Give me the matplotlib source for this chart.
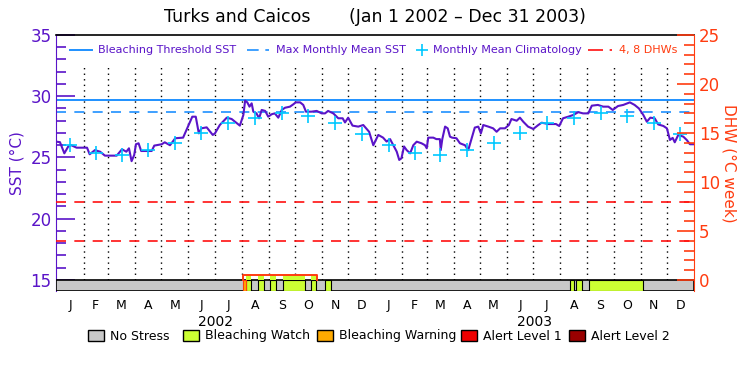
import numpy as np
import pandas as pd
import matplotlib
matplotlib.use("Agg")
import matplotlib.pyplot as plt
from matplotlib.patches import Rectangle

# days since 2002-01-01 and SST (degC)
sst_day = [0, 4, 9, 13.5, 17, 23, 35, 38, 44, 50, 55.5, 69, 75, 80, 83, 86, 89, 91, 94, 97,
           109, 112, 120.5, 124, 130, 136, 145, 148, 153, 155.5, 159.5, 163, 166, 172, 176,
           179, 181.5, 187, 195, 200.6, 210, 214, 216, 218.5, 221, 223.5, 225.4, 229, 232,
           235, 239, 242.5, 246.4, 250, 254, 258, 261.7, 267.4, 271, 274, 279, 282.6, 285.7,
           292, 298, 303.7, 307.5, 311, 317, 322.7, 327.7, 330.4, 334, 339, 345.6, 351.3,
           354.4, 358, 362.8, 368.5, 374, 378, 382, 385.7, 389.6, 392.5, 395, 398, 401, 405,
           408.6, 412.5, 418, 422, 424, 425.7, 431.5, 435, 439, 440, 441.8, 445, 448, 450.6,
           453, 458, 462, 467.8, 471.5, 474.6, 479, 483, 486, 488.7, 494.5, 500, 504, 508,
           513.6, 518, 521, 527, 530.7, 534.5, 540, 546, 551.7, 555.6, 563, 572, 575.7, 580,
           586, 591.8, 597.5, 603, 609, 613, 620, 626, 632, 637, 643, 649, 656.6, 662, 667,
           672, 676, 680, 685, 689, 695, 699, 702.5, 705.6, 708, 712, 717.8, 721.7, 725.4, 729]
sst_val = [26.29, 26.25, 25.34, 25.9, 26.0, 25.8, 25.8, 25.26, 25.6, 25.47, 25.15, 25.15,
           25.67, 25.47, 25.75, 24.7, 25.2, 26.08, 26.16, 25.53, 25.53, 25.97, 26.08, 26.24,
           26.0, 26.57, 26.62, 27.1, 27.92, 28.33, 28.33, 26.97, 27.38, 27.46, 27.1, 26.84,
           26.97, 27.65, 28.25, 28.14, 27.6, 28.47, 29.64, 29.5, 29.15, 29.42, 28.74, 28.6,
           28.2, 28.88, 28.8, 28.33, 28.53, 28.6, 28.25, 28.88, 29.06, 29.15, 29.33, 29.5,
           29.5, 29.29, 28.74, 28.74, 28.8, 28.6, 28.6, 28.8, 28.6, 28.2, 28.2, 27.86, 28.25,
           27.6, 27.52, 27.65, 27.4, 27.1, 26.0, 26.84, 26.62, 26.3, 26.5, 26.0, 25.48, 24.8,
           24.93, 25.9, 25.6, 25.34, 26.0, 26.29, 26.16, 26.0, 25.75, 26.62, 26.62, 26.5,
           26.5, 25.6, 26.5, 27.52, 27.38, 26.7, 26.62, 26.57, 26.16, 26.0, 25.6, 26.35,
           27.44, 27.52, 26.97, 27.65, 27.52, 27.38, 27.1, 27.38, 27.38, 27.65, 28.14, 28.0,
           28.25, 27.92, 27.52, 27.33, 27.65, 27.84, 27.73, 27.73, 27.57, 28.2, 28.33, 28.47,
           28.7, 28.6, 28.6, 29.23, 29.29, 29.15, 29.15, 28.88, 29.2, 29.29, 29.5, 29.29,
           29.0, 28.47, 27.92, 28.25, 28.2, 27.7, 27.57, 27.38, 26.43, 26.6, 26.24, 26.84,
           26.7, 26.43, 26.08, 26.08]

# monthly mean climatology (same for both years)
clim = [26.0, 25.4, 25.2, 25.6, 26.2, 27.0, 27.84, 28.2, 28.6, 28.4, 27.84, 26.9]
mmm = 28.7
threshold = 29.7
dhw_levels = [4, 8]

# degree heating weeks step (only the non-zero stretch is drawn)
dhw_day = [214, 214, 298, 298]
dhw_val = [0, 0.5, 0.5, 0]

# stress level periods (start day, end day)
watch = [(216.7, 222.8), (230.4, 238), (244.5, 251.4), (259, 284.6), (291.4, 297.2),
         (307.5, 314.3), (588, 593), (595, 602), (610, 672)]
warning = [(214, 216.7)]

month_letters = list("JFMAMJJASOND")
years = ["2002", "2003"]

purple = "#5a14c8"
orange = "#ff3c10"
blue = "#1e90ff"
cyan = "#00c8ff"

start = pd.Timestamp("2002-01-01")
mstarts = pd.date_range("2002-01-01", "2004-01-01", freq="MS")
mdays = np.array((mstarts - start).days)
mmid = (mdays[:-1] + mdays[1:]) / 2

fig = plt.figure(figsize=(7.5, 3.75), dpi=100)
ax = fig.add_axes([0.0753, 0.224, 0.85, 0.6827])
ax2 = ax.twinx()

ax.set_xlim(0, 730)
ax.set_ylim(14.1, 35)
ax2.set_ylim(-1.125, 25)

# month dividers
for d in mdays[1:-1]:
    ax.plot([d, d], [15, 32.5], color="black", lw=1, ls=(0, (1, 3)))

ax.axhline(threshold, color=blue, lw=1.4)
ax.axhline(mmm, color=blue, lw=1.2, ls=(0, (6, 5)))
for lev in dhw_levels:
    ax2.axhline(lev, color="#ff1010", lw=1.2, ls=(0, (6, 5)))

ax.plot(sst_day, sst_val, color=purple, lw=1.5, zorder=5)
ax.plot(mmid, clim * 2, ls="none", marker="+", ms=10, mew=1.2, color=cyan, zorder=6)

# stress bar
ax.add_patch(Rectangle((0, 14.1), 730, 0.9, facecolor="#c8c8c8", edgecolor="black", lw=1.2, zorder=3))
for a, b in watch:
    ax.add_patch(Rectangle((a, 14.1), b - a, 0.9, facecolor="#ccff33", edgecolor="black", lw=0.8, zorder=4))
for a, b in warning:
    ax.add_patch(Rectangle((a, 14.1), b - a, 0.9, facecolor="#ffaa00", edgecolor=orange, lw=0.8, zorder=4))

# DHW strip
for a, b in watch:
    if b <= 298:
        ax2.fill_between([a, b], 0, 0.5, color="#ccff33", lw=0, zorder=2)
ax2.plot(dhw_day, dhw_val, color=orange, lw=1.4, zorder=3)

# axes styling
ax.set_xticks([])
ax.spines["left"].set_color(purple)
ax.spines["right"].set_visible(False)
ax2.spines["right"].set_color(orange)
ax2.spines["left"].set_visible(False)
for s in ["top", "bottom"]:
    ax2.spines[s].set_visible(False)
ax.spines["top"].set_linewidth(1.2)
ax.spines["bottom"].set_visible(False)

ax.set_yticks([15, 20, 25, 30, 35])
ax.set_yticks(np.arange(15, 36, 1), minor=True)
ax.tick_params(axis="y", which="major", direction="in", length=14, color=purple,
               labelcolor=purple, labelsize=12, width=1.2)
ax.tick_params(axis="y", which="minor", direction="in", length=7, color=purple, width=1.2)
ax.set_ylabel("SST (°C)", color=purple, fontsize=11, labelpad=4)

ax2.set_yticks([0, 5, 10, 15, 20, 25])
ax2.set_yticks(np.arange(0, 26, 1), minor=True)
ax2.tick_params(axis="y", which="major", direction="in", length=12, color=orange,
                labelcolor=orange, labelsize=12, width=1.2)
ax2.tick_params(axis="y", which="minor", direction="in", length=7, color=orange, width=1.2)
ax2.set_ylabel("DHW (°C week)", color=orange, fontsize=11, rotation=-90, labelpad=12)

# month and year labels
for m, letter in zip(mmid, month_letters * 2):
    ax.text(m, -0.03, letter, transform=ax.get_xaxis_transform(), ha="center", va="top", fontsize=9)
for i, yr in enumerate(years):
    ax.text((mdays[12 * i] + mdays[12 * i + 12]) / 2, -0.095, yr, transform=ax.get_xaxis_transform(),
            ha="center", va="top", fontsize=10)

# top legend
tr = ax.transAxes
ly = 0.943
ax.plot([0.021, 0.056], [ly, ly], color=blue, lw=1.4, transform=tr)
ax.text(0.065, ly, "Bleaching Threshold SST", color=purple, fontsize=8, va="center", transform=tr)
ax.plot([0.299, 0.333], [ly, ly], color=blue, lw=1.2, ls=(0, (7, 4)), transform=tr)
ax.text(0.345, ly, "Max Monthly Mean SST", color=purple, fontsize=8, va="center", transform=tr)
ax.plot([0.573], [ly], marker="+", ms=8, mew=1.2, color=cyan, transform=tr)
ax.text(0.590, ly, "Monthly Mean Climatology", color=purple, fontsize=8, va="center", transform=tr)
ax.plot([0.834, 0.872], [ly, ly], color="#ff1010", lw=1.2, ls=(0, (9, 4)), transform=tr)
ax.text(0.882, ly, "4, 8 DHWs", color=orange, fontsize=8, va="center", transform=tr)

fig.text(0.5, 0.94, "Turks and Caicos       (Jan 1 2002 – Dec 31 2003)", ha="center",
         fontsize=12.5)

# bottom legend
labels = ["No Stress", "Bleaching Watch", "Bleaching Warning", "Alert Level 1", "Alert Level 2"]
colors = ["#c8c8c8", "#ccff33", "#ffaa00", "#ee0000", "#990000"]
box_x = [88, 183, 317, 461, 569]
for x0, lab, c in zip(box_x, labels, colors):
    fig.add_artist(Rectangle((x0 / 750, 1 - 341 / 375), 16 / 750, 11 / 375, facecolor=c,
                             edgecolor="black", lw=1, transform=fig.transFigure))
    fig.text((x0 + 22) / 750, 1 - 336 / 375, lab, fontsize=9, va="center")

fig.savefig("out.png", dpi=100)
